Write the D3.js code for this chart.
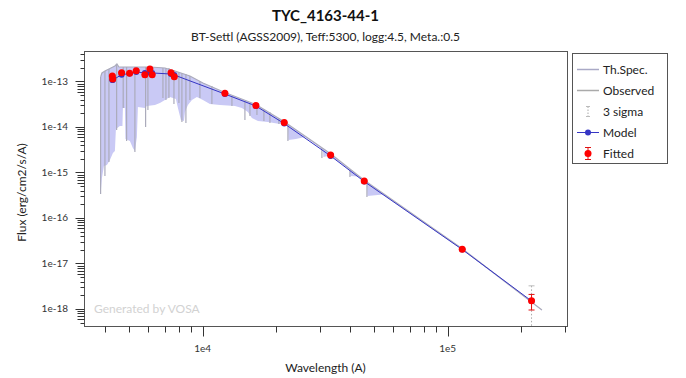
<!DOCTYPE html>
<html>
<head>
<meta charset="utf-8">
<script src="https://cdn.jsdelivr.net/npm/d3@7"></script>
<style>
  body { margin: 0; background: #fff; }
  svg { font-family: Lato, "DejaVu Sans", sans-serif; }
</style>
</head>
<body>
<div id="chart"></div>
<script>
////////////////////////////  Data  ////////////////////////////
// theoretical spectrum: upper edge (continuum) [wavelength A, flux]
const specTop = [
  [3834, 1.26e-13], [3882, 1.54e-13], [3993, 1.70e-13], [4184, 1.93e-13],
  [4385, 2.19e-13], [4469, 2.42e-13], [4554, 2.08e-13], [5050, 2.08e-13],
  [6094, 2.08e-13], [7018, 1.98e-13], [7709, 1.70e-13], [8875, 1.32e-13],
  [10030, 9.27e-14], [12330, 5.73e-14], [16500, 3.12e-14], [21470, 1.32e-14],
  [33400, 2.55e-15], [45530, 6.84e-16], [114400, 2.14e-17], [242600, 9.5e-19]
];
// lower edge of the absorption lines
const specBottom = [
  [3834, 3.37e-16], [3882, 7.57e-16], [3955, 1.39e-15], [4068, 1.46e-15],
  [4184, 1.88e-15], [4304, 2.68e-15], [4385, 2.97e-15], [4427, 9.04e-15],
  [4596, 1.05e-14], [4707, 1.05e-14], [4728, 2.62e-14], [4818, 2.62e-14],
  [4841, 5.45e-15], [5050, 4.92e-15], [5193, 3.46e-15], [5292, 2.97e-15],
  [5392, 6.03e-15], [5443, 2.75e-14], [5814, 2.62e-14], [5925, 2.89e-14],
  [6387, 3.04e-14], [6693, 3.37e-14], [7018, 3.92e-14], [7355, 4.56e-14],
  [7780, 4.12e-14], [7929, 2.62e-14], [8155, 1.425e-14], [8389, 1.355e-14],
  [8469, 2.14e-14], [8710, 3.04e-14], [9043, 3.92e-14], [9478, 4.56e-14],
  [10030, 3.92e-14], [10710, 3.20e-14], [11770, 3.04e-14], [13550, 2.89e-14],
  [14470, 2.62e-14], [15300, 2.14e-14], [15890, 1.577e-14], [16820, 1.355e-14],
  [18470, 1.288e-14], [20680, 1.164e-14], [21470, 1.224e-14], [22290, 1.107e-14],
  [22400, 5.18e-15], [24030, 5.45e-15], [26160, 6.03e-15], [30970, 3.20e-15],
  [31110, 2.19e-15], [33080, 2.36e-15], [39930, 1.135e-15], [40120, 8.38e-16],
  [43040, 8.17e-16], [46840, 5.87e-16], [47060, 3.04e-16], [54450, 3.28e-16],
  [114400, 2.03e-17], [242600, 9.27e-19]
];
// strong single lines [wavelength, top flux, bottom flux]
const specLines = [
  [3834, 1.26e-13, 3.37e-16], [3993, 1.70e-13, 8.38e-16], [4146, 1.88e-13, 1.70e-15],
  [4457, 2.42e-13, 8.59e-15], [4741, 2.08e-13, 2.62e-14], [4895, 2.08e-13, 4.92e-15],
  [5292, 2.08e-13, 2.82e-15], [5852, 2.08e-13, 1.0e-14], [5980, 2.08e-13, 2.36e-14],
  [6887, 1.98e-13, 4.34e-14], [7084, 1.98e-13, 3.92e-14], [7286, 1.98e-13, 4.34e-14],
  [7638, 1.79e-13, 3.20e-14], [8004, 1.62e-13, 3.37e-14], [8232, 1.54e-13, 1.288e-14],
  [8547, 1.46e-13, 1.224e-14], [8875, 1.32e-13, 3.92e-14], [9750, 1.03e-13, 4.34e-14],
  [10910, 7.96e-14, 3.20e-14], [13170, 4.80e-14, 2.89e-14], [14880, 3.73e-14, 1.425e-14],
  [15600, 3.37e-14, 1.745e-14], [16660, 2.89e-14, 1.835e-14], [17790, 2.49e-14, 1.355e-14],
  [18820, 2.14e-14, 1.224e-14], [20480, 1.577e-14, 1.164e-14], [22290, 1.164e-14, 4.92e-15],
  [30680, 3.46e-15, 2.08e-15], [39930, 1.135e-15, 7.96e-16], [46840, 5.87e-16, 2.89e-16]
];

// photometry
const photWave = [4280, 4297, 4670, 5035, 5358, 5812, 6094, 6225, 7430, 7660,
                  12330, 16500, 21530, 33300, 45660, 114700, 220000];
const fluxObs = [1.32e-13, 1.135e-13, 1.56e-13, 1.51e-13, 1.73e-13, 1.41e-13, 1.88e-13,
                 1.41e-13, 1.56e-13, 1.275e-13, 5.50e-14, 2.97e-14, 1.256e-14,
                 2.42e-15, 6.50e-16, 2.05e-17, 1.52e-18];
const fluxErr = [3e-15, 3e-15, 3e-15, 2e-15, 2e-15, 1e-15, 3e-15, 1e-15, 2e-15, 1e-15,
                 1e-15, 5e-16, 2e-16, 5e-17, 1e-17, 3e-19, 5.7e-19];
const fluxModel = [1.08e-13, 1.08e-13, 1.41e-13, 1.50e-13, 1.62e-13, 1.54e-13, 1.56e-13,
                   1.54e-13, 1.46e-13, 1.39e-13, 5.31e-14, 2.89e-14, 1.19e-14,
                   2.31e-15, 6.34e-16, 2.03e-17, 1.50e-18];

const legendItems = ["Th.Spec.", "Observed", "3 sigma", "Model", "Fitted"];

////////////////////////////  Init  ////////////////////////////
const width = 686, height = 378;
const margin = { top: 51, right: 119, bottom: 52, left: 84 };
const plotW = width - margin.left - margin.right;
const plotH = height - margin.top - margin.bottom;

const specFill = "#c9c9f5";
const specLine = "#ababbb";
const modelColor = "#3535c4";
const fitColor = "#ff0000";

const svg = d3.select("#chart").append("svg")
  .attr("width", width).attr("height", height);

const x = d3.scaleLog().domain([3280, 307000]).range([margin.left, margin.left + plotW]);
const y = d3.scaleLog().domain([4.23e-19, 4.68e-13]).range([margin.top + plotH, margin.top]);

svg.append("clipPath").attr("id", "clip")
  .append("rect")
  .attr("x", margin.left).attr("y", margin.top)
  .attr("width", plotW).attr("height", plotH);

const plot = svg.append("g").attr("clip-path", "url(#clip)");

// spectrum polygon: top edge forward, bottom edge back
const line = d3.line().x(d => x(d[0])).y(d => y(d[1]));
plot.append("path")
  .attr("d", line(specTop.concat(specBottom.slice().reverse())) + "Z")
  .attr("fill", specFill)
  .attr("stroke", "none");

plot.selectAll(".spec-line")
  .data(specLines)
  .enter()
  .append("line")
  .attr("x1", d => x(d[0])).attr("x2", d => x(d[0]))
  .attr("y1", d => y(d[1])).attr("y2", d => y(d[2]))
  .attr("stroke", specLine)
  .attr("stroke-width", 1.2);

plot.append("path")
  .attr("d", line(specTop))
  .attr("fill", "none")
  .attr("stroke", specLine)
  .attr("stroke-width", 1.2);

// 3 sigma (dotted)
const phot = photWave.map((w, i) => ({ w, f: fluxObs[i], e: fluxErr[i], m: fluxModel[i] }));
plot.selectAll(".sigma")
  .data(phot)
  .enter()
  .append("line")
  .attr("x1", d => x(d.w)).attr("x2", d => x(d.w))
  .attr("y1", d => y(d.f + 3 * d.e))
  .attr("y2", d => (d.f - 3 * d.e > 0 ? y(d.f - 3 * d.e) : margin.top + plotH + 2))
  .attr("stroke", "#aaa")
  .attr("stroke-dasharray", "1.5,2");
plot.selectAll(".sigma-cap")
  .data(phot)
  .enter()
  .append("line")
  .attr("x1", d => x(d.w) - 3).attr("x2", d => x(d.w) + 3)
  .attr("y1", d => y(d.f + 3 * d.e)).attr("y2", d => y(d.f + 3 * d.e))
  .attr("stroke", "#bbb");

// model
plot.append("path")
  .datum(phot)
  .attr("d", d3.line().x(d => x(d.w)).y(d => y(d.m)))
  .attr("fill", "none")
  .attr("stroke", modelColor)
  .attr("stroke-width", 1);
plot.selectAll(".model-dot")
  .data(phot)
  .enter()
  .append("circle")
  .attr("cx", d => x(d.w)).attr("cy", d => y(d.m))
  .attr("r", 3)
  .attr("fill", modelColor);

// fitted with error bars
const eb = plot.selectAll(".err").data(phot).enter().append("g").attr("stroke", "#e01010");
eb.append("line")
  .attr("x1", d => x(d.w)).attr("x2", d => x(d.w))
  .attr("y1", d => y(d.f + d.e)).attr("y2", d => y(d.f - d.e));
eb.append("line")
  .attr("x1", d => x(d.w) - 3).attr("x2", d => x(d.w) + 3)
  .attr("y1", d => y(d.f + d.e)).attr("y2", d => y(d.f + d.e));
eb.append("line")
  .attr("x1", d => x(d.w) - 3).attr("x2", d => x(d.w) + 3)
  .attr("y1", d => y(d.f - d.e)).attr("y2", d => y(d.f - d.e));
plot.selectAll(".fit-dot")
  .data(phot)
  .enter()
  .append("circle")
  .attr("cx", d => x(d.w)).attr("cy", d => y(d.f))
  .attr("r", 3.5)
  .attr("fill", fitColor);

// watermark
svg.append("text")
  .attr("x", margin.left + 10).attr("y", margin.top + plotH - 13)
  .attr("font-size", 12).attr("fill", "#d2d2d2")
  .text("Generated by VOSA");

// frame
svg.append("rect")
  .attr("x", margin.left + 0.5).attr("y", margin.top + 0.5)
  .attr("width", plotW).attr("height", plotH)
  .attr("fill", "none").attr("stroke", "#555");

////////////////////////////  Axes  ////////////////////////////
const isMajor = d => Math.abs(Math.log10(d) - Math.round(Math.log10(d))) < 1e-6;
const expFmt = d => "1e" + Math.round(Math.log10(d));
const yBase = margin.top + plotH + 0.5;

svg.selectAll(".xtick")
  .data(x.ticks())
  .enter()
  .append("line")
  .attr("x1", d => Math.round(x(d)) + 0.5).attr("x2", d => Math.round(x(d)) + 0.5)
  .attr("y1", yBase).attr("y2", d => yBase + (isMajor(d) ? 10 : 6))
  .attr("stroke", "#333");
svg.selectAll(".xlab")
  .data(x.ticks().filter(isMajor))
  .enter()
  .append("text")
  .attr("x", d => x(d)).attr("y", yBase + 25)
  .attr("text-anchor", "middle")
  .attr("font-size", 10).attr("fill", "#333")
  .text(expFmt);

const xBase = margin.left + 0.5;
svg.selectAll(".ytick")
  .data(y.ticks())
  .enter()
  .append("line")
  .attr("x1", xBase).attr("x2", d => {
    const m = Math.round(d / Math.pow(10, Math.floor(Math.log10(d) + 1e-9)));
    return xBase - (isMajor(d) ? 9 : m >= 6 ? 7 : 4);
  })
  .attr("y1", d => Math.round(y(d)) + 0.5).attr("y2", d => Math.round(y(d)) + 0.5)
  .attr("stroke", "#333");
svg.selectAll(".ylab")
  .data(y.ticks().filter(isMajor))
  .enter()
  .append("text")
  .attr("x", margin.left - 16).attr("y", d => y(d) + 3.5)
  .attr("text-anchor", "end")
  .attr("font-size", 10).attr("fill", "#333")
  .text(expFmt);

svg.append("text")
  .attr("x", margin.left + plotW / 2).attr("y", 372)
  .attr("text-anchor", "middle").attr("font-size", 12).attr("fill", "#222")
  .text("Wavelength (A)");
svg.append("text")
  .attr("transform", `translate(26, ${margin.top + plotH / 2 + 4}) rotate(-90)`)
  .attr("text-anchor", "middle").attr("font-size", 12).attr("fill", "#222")
  .text("Flux (erg/cm2/s/A)");

// titles
svg.append("text")
  .attr("x", margin.left + plotW / 2).attr("y", 21)
  .attr("text-anchor", "middle").attr("font-size", 15).attr("font-weight", "bold")
  .attr("fill", "#111")
  .text("TYC_4163-44-1");
svg.append("text")
  .attr("x", margin.left + plotW / 2).attr("y", 41)
  .attr("text-anchor", "middle").attr("font-size", 12).attr("fill", "#222")
  .text("BT-Settl (AGSS2009), Teff:5300, logg:4.5, Meta.:0.5");

////////////////////////////  Legend  ////////////////////////////
const lg = svg.append("g").attr("transform", "translate(572,53)");
lg.append("rect")
  .attr("x", 0.5).attr("y", 0.5).attr("width", 95).attr("height", 110)
  .attr("fill", "#fff").attr("stroke", "#555");
const rowY = i => 16.5 + i * 21;
lg.selectAll(".lt")
  .data(legendItems)
  .enter()
  .append("text")
  .attr("x", 31).attr("y", (d, i) => rowY(i) + 4.5)
  .attr("font-size", 12).attr("fill", "#222")
  .text(d => d);
lg.append("line").attr("x1", 5).attr("x2", 27).attr("y1", rowY(0)).attr("y2", rowY(0))
  .attr("stroke", "#a9a9c6").attr("stroke-width", 1.5);
lg.append("line").attr("x1", 5).attr("x2", 27).attr("y1", rowY(1)).attr("y2", rowY(1))
  .attr("stroke", "#aaa").attr("stroke-width", 1.5);
lg.append("line").attr("x1", 16).attr("x2", 16).attr("y1", rowY(2) - 5).attr("y2", rowY(2) + 5)
  .attr("stroke", "#aaa").attr("stroke-dasharray", "1.5,1.5");
lg.append("line").attr("x1", 14).attr("x2", 18).attr("y1", rowY(2) - 5).attr("y2", rowY(2) - 5)
  .attr("stroke", "#bbb");
lg.append("line").attr("x1", 14).attr("x2", 18).attr("y1", rowY(2) + 5).attr("y2", rowY(2) + 5)
  .attr("stroke", "#bbb");
lg.append("line").attr("x1", 5).attr("x2", 27).attr("y1", rowY(3)).attr("y2", rowY(3))
  .attr("stroke", modelColor);
lg.append("circle").attr("cx", 16).attr("cy", rowY(3)).attr("r", 3).attr("fill", modelColor);
const lf = lg.append("g").attr("stroke", "#e01010");
lf.append("line").attr("x1", 16).attr("x2", 16).attr("y1", rowY(4) - 6).attr("y2", rowY(4) + 6);
lf.append("line").attr("x1", 13).attr("x2", 19).attr("y1", rowY(4) - 6).attr("y2", rowY(4) - 6);
lf.append("line").attr("x1", 13).attr("x2", 19).attr("y1", rowY(4) + 6).attr("y2", rowY(4) + 6);
lg.append("circle").attr("cx", 16).attr("cy", rowY(4)).attr("r", 3.5).attr("fill", fitColor);
</script>
</body>
</html>
